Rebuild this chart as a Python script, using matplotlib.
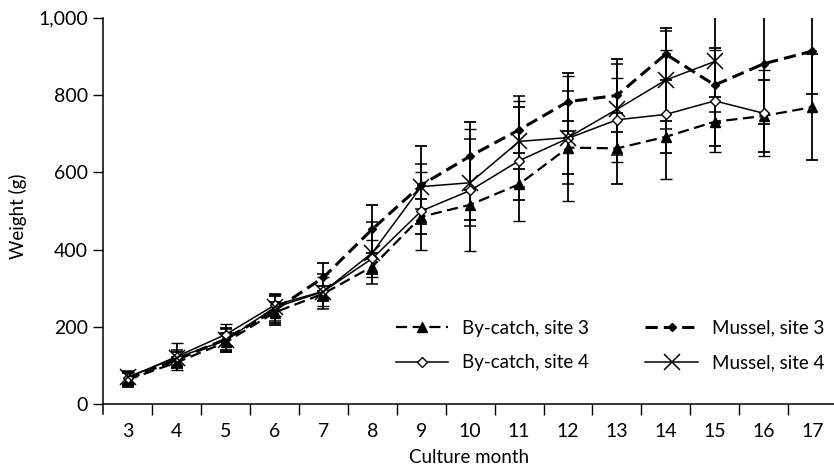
import numpy as np
import matplotlib
matplotlib.use("Agg")
import matplotlib.pyplot as plt
from matplotlib.ticker import FuncFormatter

plt.rcParams["font.family"] = ["Lato", "DejaVu Sans"]

months = list(range(3, 18))

# By-catch, site 3 (months 3-17)
bycatch3 = [63, 108, 160, 237, 286, 356, 485, 516, 569, 664, 662, 692, 731, 746, 769]
bycatch3_err = [18, 15, 25, 27, 20, 20, 45, 39, 40, 68, 92, 41, 63, 93, 137]

# Mussel, site 3 (months 3-17)
mussel3 = [66, 115, 168, 243, 328, 453, 567, 642, 710, 783, 799, 906, 826, 881, 914]
mussel3_err = [18, 20, 28, 38, 36, 63, 101, 89, 60, 75, 94, 67, 97, 156, 110]

# By-catch, site 4 (months 3-16)
bycatch4 = [68, 123, 180, 256, 292, 377, 500, 553, 630, 688, 736, 750, 785, 753]
bycatch4_err = [16, 34, 27, 29, 38, 48, 100, 158, 155, 162, 108, 167, 132, 111]

# Mussel, site 4 (months 3-15)
mussel4 = [70, 120, 165, 250, 291, 392, 563, 573, 680, 690, 763, 839, 887]
mussel4_err = [15, 20, 30, 35, 46, 80, 59, 113, 118, 121, 117, 127, 132]

fig = plt.figure(figsize=(8.34, 4.70), dpi=100)
ax = fig.add_axes([0.124, 0.119, 0.876, 0.843])

err_kw = dict(ecolor="black", elinewidth=1.3, capsize=4.5, capthick=1.3)

ax.errorbar(months[:len(bycatch3)], bycatch3, yerr=bycatch3_err, color="black",
            linestyle=(0, (5, 2.5)), linewidth=1.6, marker="^", markersize=7,
            markerfacecolor="black", label="By-catch, site 3", zorder=3, **err_kw)
ax.errorbar(months[:len(mussel3)], mussel3, yerr=mussel3_err, color="black",
            linestyle=(0, (4, 2)), linewidth=2.2, marker="D", markersize=4,
            markerfacecolor="black", label="Mussel, site 3", zorder=3, **err_kw)
ax.errorbar(months[:len(bycatch4)], bycatch4, yerr=bycatch4_err, color="black",
            linestyle="-", linewidth=1.1, marker="D", markersize=5.5,
            markerfacecolor="white", markeredgewidth=1.0,
            label="By-catch, site 4", zorder=4, **err_kw)
ax.errorbar(months[:len(mussel4)], mussel4, yerr=mussel4_err, color="black",
            linestyle="-", linewidth=1.1, marker="x", markersize=11,
            markeredgewidth=1.1, label="Mussel, site 4", zorder=4, **err_kw)

ax.set_xlim(2.5, 17.44)
ax.set_ylim(-26, 1000)

for s in ["top", "right"]:
    ax.spines[s].set_visible(False)
ax.spines["bottom"].set_position(("data", 0))
ax.spines["left"].set_bounds(-26, 1000)
for s in ["left", "bottom"]:
    ax.spines[s].set_linewidth(1.1)

ax.set_yticks([0, 200, 400, 600, 800, 1000])
ax.yaxis.set_major_formatter(FuncFormatter(lambda v, p: f"{int(v):,}"))
ax.tick_params(axis="y", direction="out", length=7, width=1.0, labelsize=14, pad=4)

ax.set_xticks(months)
ax.set_xticks(np.arange(3.5, 17, 1.0), minor=True)
ax.tick_params(axis="x", which="major", length=0, labelsize=14, pad=14)
ax.tick_params(axis="x", which="minor", direction="out", length=8, width=1.0)

ax.set_xlabel("Culture month", fontsize=13.5, labelpad=6)
ax.set_ylabel("Weight (g)", fontsize=13.5, labelpad=8)

handles, labels = ax.get_legend_handles_labels()
order = [0, 2, 1, 3]
ax.legend([handles[i][0] for i in order], [labels[i] for i in order], ncol=2,
          frameon=False, fontsize=13.5, loc="lower right",
          bbox_to_anchor=(1.01, 0.065), handlelength=2.8, columnspacing=3.0,
          labelspacing=0.95, handletextpad=0.75)

fig.savefig("out.png", dpi=100)
